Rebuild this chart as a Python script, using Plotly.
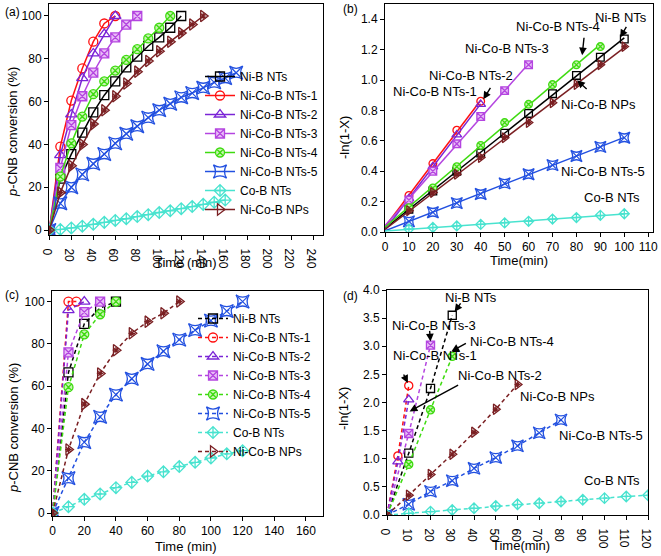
import numpy as np
import plotly.graph_objects as go

# ---------------- series identity ----------------
names = ["Ni-B NTs", "Ni-Co-B NTs-1", "Ni-Co-B NTs-2", "Ni-Co-B NTs-3",
         "Ni-Co-B NTs-4", "Ni-Co-B NTs-5", "Co-B NTs", "Ni-Co-B NPs"]
keys = ["nib", "s1", "s2", "s3", "s4", "s5", "cob", "nps"]

# ---------------- panel (a): conversion vs time ----------------
a_time_nib = [0, 10, 20, 30, 40, 50, 60, 70, 80, 90, 100, 110, 120]
a_conv_nib = [0, 24, 35.5, 45.5, 55, 63, 69.5, 76, 81, 86, 90, 94.5, 100]
a_time_s1 = [0, 10, 20, 30, 40, 50, 60]
a_conv_s1 = [0, 39, 60.5, 75.5, 88, 96.5, 100]
a_time_s2 = [0, 10, 20, 30, 40, 50, 60]
a_conv_s2 = [0, 35, 54, 71, 82.5, 91.5, 100]
a_time_s3 = [0, 10, 20, 30, 40, 50, 60, 70, 80]
a_conv_s3 = [0, 29, 49, 62.5, 73.5, 82.5, 90, 96, 100]
a_time_s4 = [0, 10, 20, 30, 40, 50, 60, 70, 80, 90, 100, 110]
a_conv_s4 = [0, 25, 40.5, 53, 63.5, 69.5, 74.5, 79.5, 84.5, 89.5, 94.5, 100]
a_time_s5 = [0, 10, 20, 30, 40, 50, 60, 70, 80, 90, 100, 110, 120, 130, 140, 150, 160, 170]
a_conv_s5 = [0, 12.5, 20, 26, 31, 35.5, 40.5, 45, 48.5, 52.5, 56, 59, 62, 64, 66.5, 69, 71, 73.5]
a_time_cob = [0, 10, 20, 30, 40, 50, 60, 70, 80, 90, 100, 110, 120, 130, 140, 150, 160]
a_conv_cob = [0, 0.3, 1, 1.8, 2.7, 3.6, 4.5, 5.3, 6.3, 7.2, 8.2, 9, 10, 11, 12, 13, 14]
a_time_nps = [0, 10, 20, 30, 40, 50, 60, 70, 80, 90, 100, 110, 120, 130, 140]
a_conv_nps = [0, 17.5, 30, 40, 49.5, 56, 62.5, 68.5, 74, 79, 83.5, 88, 92, 96, 100]

# ---------------- panel (b): -ln(1-X) vs time ----------------
b_time_nib = [10, 20, 30, 40, 50, 60, 70, 80, 90, 100]
b_val_nib = [0.15, 0.27, 0.40, 0.52, 0.65, 0.78, 0.91, 1.03, 1.15, 1.27]
b_time_s1 = [10, 20, 30, 40]
b_val_s1 = [0.24, 0.45, 0.67, 0.86]
b_time_s2 = [10, 20, 30, 40]
b_val_s2 = [0.22, 0.43, 0.64, 0.84]
b_time_s3 = [10, 20, 30, 40, 50, 60]
b_val_s3 = [0.21, 0.40, 0.58, 0.76, 0.93, 1.10]
b_time_s4 = [10, 20, 30, 40, 50, 60, 70, 80, 90]
b_val_s4 = [0.16, 0.29, 0.43, 0.57, 0.72, 0.84, 0.97, 1.10, 1.22]
b_time_s5 = [10, 20, 30, 40, 50, 60, 70, 80, 90, 100]
b_val_s5 = [0.07, 0.13, 0.19, 0.25, 0.32, 0.38, 0.44, 0.50, 0.56, 0.62]
b_time_cob = [10, 20, 30, 40, 50, 60, 70, 80, 90, 100]
b_val_cob = [0.02, 0.03, 0.04, 0.05, 0.06, 0.07, 0.085, 0.095, 0.11, 0.12]
b_time_nps = [10, 20, 30, 40, 50, 60, 70, 80, 90, 100]
b_val_nps = [0.14, 0.26, 0.38, 0.49, 0.62, 0.72, 0.85, 0.97, 1.10, 1.22]

# ---------------- panel (c): conversion vs time ----------------
c_time_nib = [0, 10, 20, 30, 40]
c_conv_nib = [0, 66.5, 89.5, 97, 100]
c_time_s1 = [0, 10, 15]
c_conv_s1 = [0, 100, 100]
c_time_s2 = [0, 10, 20]
c_conv_s2 = [0, 96, 100]
c_time_s3 = [0, 10, 20, 30]
c_conv_s3 = [0, 76, 95, 100]
c_time_s4 = [0, 10, 20, 30, 40]
c_conv_s4 = [0, 59.5, 84.5, 94, 100]
c_time_s5 = [0, 10, 20, 30, 40, 50, 60, 70, 80, 90, 100, 110, 120]
c_conv_s5 = [0, 16.5, 33.5, 45.5, 56, 63.5, 70.5, 76.5, 82, 86.5, 91, 95.5, 100]
c_time_cob = [0, 10, 20, 30, 40, 50, 60, 70, 80, 90, 100, 110, 120]
c_conv_cob = [0, 3, 6.5, 9, 12, 14.5, 17.5, 19.5, 22, 24, 26, 28, 29.5]
c_time_nps = [0, 10, 20, 30, 40, 50, 60, 70, 80]
c_conv_nps = [0, 30, 51.5, 66, 77, 85, 90.5, 94.5, 100]

# ---------------- panel (d): -ln(1-X) vs time ----------------
d_time_nib = [0, 10, 20, 30]
d_val_nib = [0, 1.10, 2.25, 3.55]
d_time_s1 = [0, 5, 10]
d_val_s1 = [0, 1.05, 2.30]
d_time_s2 = [0, 5, 10]
d_val_s2 = [0, 0.95, 2.05]
d_time_s3 = [0, 10, 20]
d_val_s3 = [0, 1.45, 3.02]
d_time_s4 = [0, 10, 20, 30]
d_val_s4 = [0, 0.90, 1.87, 2.82]
d_time_s5 = [0, 10, 20, 30, 40, 50, 60, 70, 80]
d_val_s5 = [0, 0.19, 0.42, 0.61, 0.83, 1.02, 1.23, 1.46, 1.69]
d_time_cob = [0, 10, 20, 30, 40, 50, 60, 70, 80, 90, 100, 110, 120]
d_val_cob = [0, 0.03, 0.06, 0.09, 0.12, 0.16, 0.19, 0.21, 0.24, 0.27, 0.30, 0.33, 0.35]
d_time_nps = [0, 10, 20, 30, 40, 50, 60]
d_val_nps = [0, 0.35, 0.72, 1.08, 1.47, 1.88, 2.32]

# ---------------- tick labels ----------------
a_xticks = list(range(0, 241, 20))
a_yticks = list(range(0, 101, 20))
b_xticks = list(range(0, 111, 10))
b_yticks = [0.0, 0.2, 0.4, 0.6, 0.8, 1.0, 1.2, 1.4]
c_xticks = list(range(0, 161, 20))
c_yticks = list(range(0, 101, 20))
d_xticks = list(range(0, 121, 10))
d_yticks = [0.0, 0.5, 1.0, 1.5, 2.0, 2.5, 3.0, 3.5, 4.0]

# ---------------- styles ----------------
colors = {"nib": "#000000", "s1": "#FF1010", "s2": "#7A24D6", "s3": "#B445E0",
          "s4": "#3EDB10", "s5": "#2250E0", "cob": "#48E3CF", "nps": "#7A1F22"}
fills = {"nib": "rgba(0,0,0,0)", "s1": "rgba(0,0,0,0)", "s2": "rgba(0,0,0,0)",
         "s3": "#E9BDF7", "s4": "#C6F5B0", "s5": "rgba(0,0,0,0)",
         "cob": "rgba(0,0,0,0)", "nps": "rgba(0,0,0,0)"}
symbols = {"nib": "square", "s1": "circle", "s2": "triangle-up", "s3": "square-x",
           "s4": "circle-x", "s5": "star-square", "cob": "diamond-cross",
           "nps": "triangle-right"}
msize = {"nib": 9, "s1": 9, "s2": 10, "s3": 9, "s4": 9, "s5": 12, "cob": 9, "nps": 10}

FONT = "Liberation Sans, Arial, sans-serif"
W, H = 661, 556

fig = go.Figure()

G = globals()


def marker_style(k, scale=1.0):
    return dict(symbol=symbols[k], size=msize[k] * scale, color=fills[k],
                line=dict(color=colors[k], width=1.3))


def add_overlay(k, x, y, xa, ya, scale):
    # inner strokes for the composite Origin-style symbols
    if k == "s5":
        sym, sz = "x-thin-open", msize[k] * scale * 0.75
    elif k == "nps":
        sym, sz = "asterisk-open", msize[k] * scale * 0.55
    else:
        return
    fig.add_trace(go.Scatter(x=x, y=y, mode="markers", xaxis=xa, yaxis=ya,
                             showlegend=False, hoverinfo="skip",
                             marker=dict(symbol=sym, size=sz, color=colors[k],
                                         line=dict(color=colors[k], width=1.2))))


# panel (a)
for k, nm in zip(keys, names):
    x = G["a_time_" + k]
    y = G["a_conv_" + k]
    fig.add_trace(go.Scatter(x=x, y=y, mode="lines+markers", name=nm,
                             xaxis="x", yaxis="y", legend="legend",
                             line=dict(color=colors[k], width=1.5),
                             marker=marker_style(k)))
    add_overlay(k, x, y, "x", "y", 1.0)

# panel (b): linear fits + markers
for k, nm in zip(keys, names):
    x = np.array(G["b_time_" + k], dtype=float)
    y = np.array(G["b_val_" + k], dtype=float)
    p = np.polyfit(x, y, 1)
    xf = np.array([0.0, x.max()])
    fig.add_trace(go.Scatter(x=xf, y=np.polyval(p, xf), mode="lines",
                             xaxis="x2", yaxis="y2", showlegend=False,
                             line=dict(color=colors[k], width=1.5)))
    fig.add_trace(go.Scatter(x=x, y=y, mode="markers", xaxis="x2", yaxis="y2",
                             showlegend=False, marker=marker_style(k, 0.85)))
    add_overlay(k, x, y, "x2", "y2", 0.85)

# panel (c)
for k, nm in zip(keys, names):
    x = G["c_time_" + k]
    y = G["c_conv_" + k]
    fig.add_trace(go.Scatter(x=x, y=y, mode="lines+markers", name=nm,
                             xaxis="x3", yaxis="y3", legend="legend2",
                             line=dict(color=colors[k], width=1.5, dash="4px,3px"),
                             marker=marker_style(k)))
    add_overlay(k, x, y, "x3", "y3", 1.0)

# panel (d)
for k, nm in zip(keys, names):
    x = G["d_time_" + k]
    y = G["d_val_" + k]
    fig.add_trace(go.Scatter(x=x, y=y, mode="lines+markers", xaxis="x4", yaxis="y4",
                             showlegend=False,
                             line=dict(color=colors[k], width=1.5, dash="4px,3px"),
                             marker=marker_style(k, 0.9)))
    add_overlay(k, x, y, "x4", "y4", 0.9)


def px_dom(x0, x1):
    return [x0 / W, x1 / W]


def py_dom(top, bottom):
    return [1 - bottom / H, 1 - top / H]


ax_common = dict(showline=True, linecolor="black", linewidth=1, mirror=True,
                 ticks="outside", ticklen=4, tickwidth=1, tickcolor="black",
                 showgrid=False, zeroline=False, automargin=False,
                 tickfont=dict(family=FONT, size=12, color="black"))

fig.update_layout(
    xaxis=dict(domain=px_dom(49, 323), range=[-0.3, 249], anchor="y",
               tickvals=a_xticks, **ax_common),
    yaxis=dict(domain=py_dom(4, 235), range=[-2.3, 105.6], anchor="x",
               tickvals=a_yticks, **ax_common),
    xaxis2=dict(domain=px_dom(385, 653), range=[0, 112], anchor="y2",
                tickvals=b_xticks, **ax_common),
    yaxis2=dict(domain=py_dom(4, 232), range=[0, 1.5], anchor="x2",
                tickvals=b_yticks, tickformat=".1f", **ax_common),
    xaxis3=dict(domain=px_dom(52, 323), range=[-0.4, 170.8], anchor="y3",
                tickvals=c_xticks, **ax_common),
    yaxis3=dict(domain=py_dom(291, 516), range=[-1.4, 105], anchor="x3",
                tickvals=c_yticks, **ax_common),
    xaxis4=dict(domain=px_dom(387, 648), range=[0, 120], anchor="y4",
                tickvals=d_xticks, **ax_common),
    yaxis4=dict(domain=py_dom(290, 515), range=[0, 4.0], anchor="x4",
                tickvals=d_yticks, tickformat=".1f", **ax_common),
)

leg_common = dict(bgcolor="rgba(0,0,0,0)", borderwidth=0,
                  font=dict(family=FONT, size=12, color="black"),
                  xanchor="left", yanchor="middle", tracegroupgap=0,
                  itemwidth=30)
fig.update_layout(
    legend=dict(x=200 / W, y=1 - 143 / H, **leg_common),
    legend2=dict(x=193 / W, y=1 - 385 / H, **leg_common),
)

ann = []


def txt(text, x, y, xref, yref, size=13, **kw):
    kw.setdefault("xanchor", "center")
    kw.setdefault("yanchor", "middle")
    ann.append(dict(text=text, x=x, y=y, xref=xref, yref=yref, showarrow=False,
                    font=dict(family=FONT, size=size, color="black"), **kw))


def arrow(x, y, axp, ayp, xref, yref):
    ann.append(dict(text="", x=x, y=y, xref=xref, yref=yref, ax=axp, ay=ayp,
                    showarrow=True, arrowhead=2, arrowsize=1.1, arrowwidth=1.4,
                    arrowcolor="black", standoff=0, startstandoff=0))


# panel labels
txt("(a)", 3 / W, 1 - 12 / H, "paper", "paper", size=12, xanchor="left")
txt("(b)", 341 / W, 1 - 9 / H, "paper", "paper", size=12, xanchor="left")
txt("(c)", 3 / W, 1 - 295 / H, "paper", "paper", size=12, xanchor="left")
txt("(d)", 341 / W, 1 - 296 / H, "paper", "paper", size=12, xanchor="left")

# axis titles
txt("Time (min)", 186 / W, 1 - 263 / H, "paper", "paper", size=13)
txt("Time(min)", 519 / W, 1 - 260 / H, "paper", "paper", size=13)
txt("Time (min)", 186 / W, 1 - 546 / H, "paper", "paper", size=13)
txt("Time(min)", 521 / W, 1 - 545 / H, "paper", "paper", size=13)
txt("<i>p</i>-CNB conversion (%)", 13 / W, 1 - 132 / H, "paper", "paper", size=13,
    textangle=-90)
txt("-ln(1-X)", 344 / W, 1 - 138 / H, "paper", "paper", size=13, textangle=-90)
txt("<i>p</i>-CNB conversion (%)", 13 / W, 1 - 428 / H, "paper", "paper", size=13,
    textangle=-90)
txt("-ln(1-X)", 343 / W, 1 - 409 / H, "paper", "paper", size=13, textangle=-90)

# panel (b) labels
txt("Ni-B NTs", 98.7, 1.413, "x2", "y2")
txt("Ni-Co-B NTs-4", 72.1, 1.354, "x2", "y2")
txt("Ni-Co-B NTs-3", 50.8, 1.209, "x2", "y2")
txt("Ni-Co-B NTs-2", 36.0, 1.032, "x2", "y2")
txt("Ni-Co-B NTs-1", 20.9, 0.923, "x2", "y2")
txt("Ni-Co-B NPs", 89.1, 0.841, "x2", "y2")
txt("Ni-Co-B NTs-5", 91.0, 0.400, "x2", "y2")
txt("Co-B NTs", 94.9, 0.228, "x2", "y2")
arrow(98.3, 1.280, 7, -12, "x2", "y2")
arrow(82.4, 1.163, 2, -19, "x2", "y2")
arrow(41.1, 0.873, 8, -13, "x2", "y2")
arrow(80.3, 0.998, 11, 10, "x2", "y2")

# panel (d) labels
txt("Ni-B NTs", 38.5, 3.863, "x4", "y4")
txt("Ni-Co-B NTs-3", 21.5, 3.374, "x4", "y4")
txt("Ni-Co-B NTs-4", 57.3, 3.081, "x4", "y4")
txt("Ni-Co-B NTs-1", 21.9, 2.841, "x4", "y4")
txt("Ni-Co-B NTs-2", 52.0, 2.485, "x4", "y4")
txt("Ni-Co-B NPs", 78.5, 2.103, "x4", "y4")
txt("Ni-Co-B NTs-5", 98.5, 1.419, "x4", "y4")
txt("Co-B NTs", 103.5, 0.610, "x4", "y4")
arrow(31.1, 3.612, 7, -10, "x4", "y4")
arrow(20.0, 3.086, -1, -12, "x4", "y4")
arrow(29.6, 2.908, 16, -9, "x4", "y4")
arrow(9.6, 2.347, -5, -10, "x4", "y4")
arrow(10.4, 1.842, 50, -27, "x4", "y4")

fig.update_layout(
    annotations=ann,
    width=W, height=H,
    margin=dict(l=0, r=0, t=0, b=0),
    paper_bgcolor="white", plot_bgcolor="white",
    font=dict(family=FONT, size=12, color="black"),
)

fig.write_html("out.html",
               config={"displayModeBar": False},
               post_script="document.body.style.margin='0px';"
                           "document.body.style.overflow='hidden';")
